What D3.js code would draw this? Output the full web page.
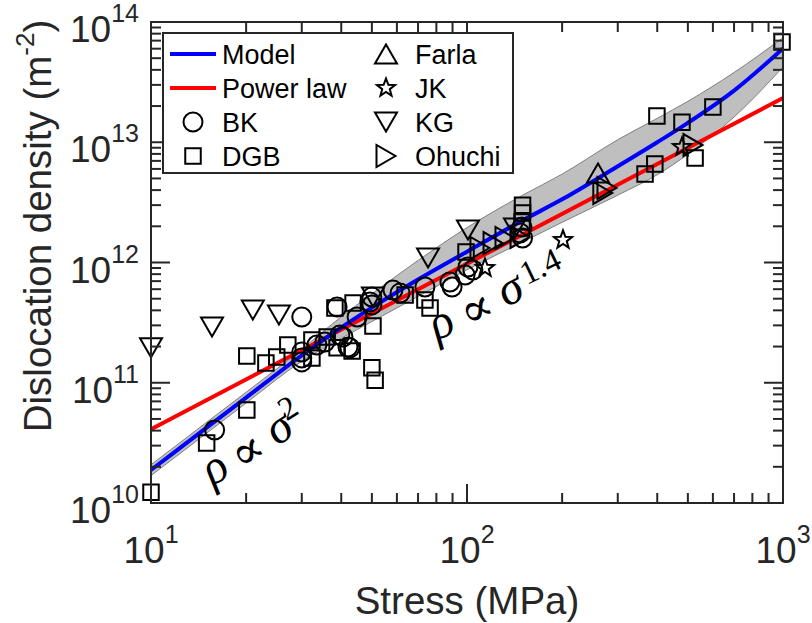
<!DOCTYPE html>
<html>
<head>
<meta charset="utf-8">
<script src="https://cdn.jsdelivr.net/npm/d3@7"></script>
<style>
  body { margin: 0; background: #fff; }
  svg { display: block; }
  text { font-family: "Liberation Sans", Arial, Helvetica, sans-serif; fill: #262626; }
</style>
</head>
<body>
<svg id="chart" width="812" height="623"></svg>
<script>
// ---- model curve with its uncertainty band ----
const modelStress  = [10, 15, 20, 30, 40, 50, 70, 100, 150, 200, 300, 400, 500, 700, 1000];
const modelDensity = [1.88e10, 4.23e10, 7.52e10, 1.69e11, 2.88e11, 4.21e11, 7.21e11, 1.23e12, 2.24e12, 3.35e12, 6.31e12, 1.00e13, 1.45e13, 2.69e13, 6.03e13];
const bandLower    = [1.69e10, 3.81e10, 6.78e10, 1.51e11, 2.34e11, 3.23e11, 5.22e11, 8.71e11, 1.48e12, 2.16e12, 3.63e12, 5.37e12, 7.94e12, 1.62e13, 4.22e13];
const bandUpper    = [2.08e10, 4.69e10, 8.34e10, 1.90e11, 3.54e11, 5.48e11, 1.04e12, 1.95e12, 3.63e12, 5.43e12, 1.05e13, 1.58e13, 2.19e13, 3.80e13, 7.41e13];

// ---- power-law fit (straight line in log-log) ----
const powerLawStress  = [10, 1000];
const powerLawDensity = [4.1e10, 2.33e13];

// ---- measured dislocation densities [stress MPa, density m^-2] ----
const bkData = [
  [15.9, 4.05e10], [30.0, 3.52e11], [30.0, 1.80e11], [30.0, 1.61e11], [30.0, 1.49e11],
  [33.5, 2.06e11], [35.5, 2.18e11], [38.8, 4.27e11], [39.6, 2.49e11], [40.5, 2.40e11],
  [42.0, 1.98e11], [42.6, 1.95e11], [44.9, 3.52e11], [49.3, 4.70e11], [50.0, 5.16e11],
  [50.0, 4.44e11], [58.3, 5.90e11], [61.4, 5.57e11], [73.6, 6.25e11], [88.3, 6.88e11],
  [89.7, 6.25e11], [98.6, 7.87e11], [100.7, 9.18e11], [104.4, 8.67e11], [147.2, 1.76e12],
  [149.3, 1.97e12], [149.9, 1.60e12]
];
const dgbData = [
  [10.0, 1.23e10], [15.0, 3.15e10], [20.1, 5.93e10], [20.1, 1.67e11], [23.1, 1.46e11],
  [25.0, 1.64e11], [27.1, 2.06e11], [32.3, 1.61e11], [32.3, 2.27e11], [36.1, 2.40e11],
  [38.2, 4.19e11], [38.8, 1.95e11], [43.3, 1.84e11], [43.6, 4.60e11], [50.4, 2.97e11],
  [50.0, 1.33e11], [51.2, 1.05e11], [63.7, 5.37e11], [73.6, 4.88e11], [76.4, 4.19e11],
  [99.3, 1.22e12], [149.9, 3.00e12], [149.9, 2.58e12], [149.3, 2.17e12], [993, 6.82e13],
  [600, 1.96e13], [399, 1.65e13], [479, 1.47e13], [527, 7.40e12], [393, 6.59e12],
  [366, 5.45e12]
];
const farlaData = [[259.8, 5.55e12]];
const jkData = [[201.3, 1.54e12], [114, 9.0e11], [479, 9.12e12]];
const kgData = [
  [10.0, 1.95e11], [15.6, 2.91e11], [21.0, 4.03e11], [25.4, 3.66e11], [50.4, 5.16e11],
  [75.3, 1.09e12], [100.7, 1.86e12], [141.9, 1.94e12]
];
const ohuchiData = [
  [109.9, 1.32e12], [120.9, 1.45e12], [131.9, 1.60e12], [147.2, 1.63e12],
  [277.3, 4.17e12], [269, 3.79e12], [519, 9.48e12]
];

// ---- axes ----
const xDomain = [10, 1000];
const yDomain = [1e10, 1e14];
const xLabel = "Stress (MPa)";
const yLabel = "Dislocation density (m";

const plot = { left: 151, right: 783, top: 22, bottom: 503 };
const axisColor = "#262626";

const svg = d3.select("#chart");
const x = d3.scaleLog().domain(xDomain).range([plot.left, plot.right]);
const y = d3.scaleLog().domain(yDomain).range([plot.bottom, plot.top]);

// marker outlines, centred on (0,0)
function circlePath(r) {
  return `M${r},0A${r},${r} 0 1,1 ${-r},0A${r},${r} 0 1,1 ${r},0Z`;
}
function squarePath(s) {
  const h = s / 2;
  return `M${-h},${-h}H${h}V${h}H${-h}Z`;
}
function triUpPath(w, h) {
  return `M0,${-h/2}L${w/2},${h/2}L${-w/2},${h/2}Z`;
}
function triDownPath(w, h) {
  return `M0,${h/2}L${w/2},${-h/2}L${-w/2},${-h/2}Z`;
}
function triRightPath(w, h) {
  return `M${h/2},0L${-h/2},${w/2}L${-h/2},${-w/2}Z`;
}
function starPath(ro, ri) {
  const pts = [];
  for (let i = 0; i < 10; i++) {
    const r = i % 2 === 0 ? ro : ri;
    const a = -Math.PI / 2 + i * Math.PI / 5;
    pts.push([r * Math.cos(a), r * Math.sin(a)]);
  }
  return "M" + pts.map(p => p[0].toFixed(2) + "," + p[1].toFixed(2)).join("L") + "Z";
}

const series = [
  { name: "BK",     data: bkData,     path: circlePath(9.5) },
  { name: "DGB",    data: dgbData,    path: squarePath(15.5) },
  { name: "Farla",  data: farlaData,  path: triUpPath(22, 19) },
  { name: "JK",     data: jkData,     path: starPath(9.5, 4) },
  { name: "KG",     data: kgData,     path: triDownPath(22, 19) },
  { name: "Ohuchi", data: ohuchiData, path: triRightPath(22, 19) }
];

// ---- uncertainty band ----
const band = modelStress.map((s, i) => ({ s, lo: bandLower[i], hi: bandUpper[i] }));
svg.append("path")
  .datum(band)
  .attr("d", d3.area()
    .x(d => x(d.s)).y0(d => y(d.lo)).y1(d => y(d.hi))
    .curve(d3.curveMonotoneX))
  .attr("fill", "#bfbfbf")
  .attr("stroke", "#7f7f7f")
  .attr("stroke-width", 1);

// ---- lines ----
const lineGen = d3.line().x(d => x(d[0])).y(d => y(d[1])).curve(d3.curveMonotoneX);
svg.append("path")
  .datum(powerLawStress.map((s, i) => [s, powerLawDensity[i]]))
  .attr("d", lineGen)
  .attr("fill", "none").attr("stroke", "#ff0000").attr("stroke-width", 4);
svg.append("path")
  .datum(modelStress.map((s, i) => [s, modelDensity[i]]))
  .attr("d", lineGen)
  .attr("fill", "none").attr("stroke", "#0000ff").attr("stroke-width", 4);

// ---- data markers ----
series.forEach(se => {
  svg.append("g").selectAll("path")
    .data(se.data)
    .join("path")
    .attr("d", se.path)
    .attr("transform", d => `translate(${x(d[0])},${y(d[1])})`)
    .attr("fill", "none")
    .attr("stroke", "#000")
    .attr("stroke-width", 2);
});

// ---- axes box and ticks (inward, on all four sides) ----
const majorLen = 19, minorLen = 10;
const ax = svg.append("g").attr("stroke", axisColor).attr("stroke-width", 2);
const isMajor = v => Math.abs(Math.log10(v) - Math.round(Math.log10(v))) < 1e-9;
x.ticks().forEach(v => {
  const px = x(v), len = isMajor(v) ? majorLen : minorLen;
  ax.append("line").attr("x1", px).attr("x2", px).attr("y1", plot.bottom).attr("y2", plot.bottom - len);
  ax.append("line").attr("x1", px).attr("x2", px).attr("y1", plot.top).attr("y2", plot.top + len);
});
y.ticks().forEach(v => {
  const py = y(v), len = isMajor(v) ? majorLen : minorLen;
  ax.append("line").attr("x1", plot.left).attr("x2", plot.left + len).attr("y1", py).attr("y2", py);
  ax.append("line").attr("x1", plot.right).attr("x2", plot.right - len).attr("y1", py).attr("y2", py);
});
ax.append("rect")
  .attr("x", plot.left).attr("y", plot.top)
  .attr("width", plot.right - plot.left).attr("height", plot.bottom - plot.top)
  .attr("fill", "none");

// tick labels as 10^n
x.ticks().filter(isMajor).forEach(v => {
  const t = svg.append("text").attr("x", x(v)).attr("y", 563)
    .attr("text-anchor", "middle").attr("font-size", 37);
  t.append("tspan").text("10");
  t.append("tspan").attr("font-size", 25).attr("dy", -20).text(Math.round(Math.log10(v)));
});
y.ticks().filter(isMajor).forEach(v => {
  const t = svg.append("text").attr("x", 139).attr("y", y(v) + 20)
    .attr("text-anchor", "end").attr("font-size", 37);
  t.append("tspan").text("10");
  t.append("tspan").attr("font-size", 25).attr("dy", -20).text(Math.round(Math.log10(v)));
});

// axis titles
svg.append("text").attr("x", 467).attr("y", 614)
  .attr("text-anchor", "middle").attr("font-size", 38.5).text(xLabel);
const yl = svg.append("text")
  .attr("transform", "translate(51,226) rotate(-90)")
  .attr("text-anchor", "middle").attr("font-size", 38.5);
yl.append("tspan").text(yLabel);
yl.append("tspan").attr("font-size", 26).attr("dy", -17).text("-2");
yl.append("tspan").attr("dy", 17).text(")");

// ---- slope annotations: glyphs placed along a rotated baseline ----
const mathFont = "'Liberation Serif', 'DejaVu Serif', serif";
function slopeNote(cx, cy, angle, size, pieces) {
  const g = svg.append("g").attr("transform", `translate(${cx},${cy}) rotate(${angle})`);
  pieces.forEach(p => {
    g.append("text")
      .attr("x", p.x).attr("y", p.y)
      .attr("text-anchor", "middle")
      .attr("font-size", p.size || size)
      .style("font-family", mathFont)
      .style("font-style", p.italic ? "italic" : "normal")
      .style("fill", "#000")
      .text(p.t);
  });
}
slopeNote(217, 472, -32, 48, [
  { t: "ρ", x: 0, y: 10, italic: true },
  { t: "∝", x: 37, y: 14 },
  { t: "σ", x: 76, y: 10, italic: true },
  { t: "2", x: 94, y: -6, size: 33 }
]);
slopeNote(443, 327, -26, 48, [
  { t: "ρ", x: 0, y: 10, italic: true },
  { t: "∝", x: 38, y: 14 },
  { t: "σ", x: 77, y: 10, italic: true },
  { t: "1.4", x: 114, y: -1, size: 33 }
]);

// ---- legend ----
const legend = svg.append("g");
legend.append("rect")
  .attr("x", 163).attr("y", 33).attr("width", 350).attr("height", 140)
  .attr("fill", "#fff").attr("stroke", axisColor).attr("stroke-width", 2);
const rowY = [54, 88, 122, 156];
const leftItems = [
  { label: "Model", line: "#0000ff" },
  { label: "Power law", line: "#ff0000" },
  { label: "BK", path: series[0].path },
  { label: "DGB", path: series[1].path }
];
const rightItems = [
  { label: "Farla", path: series[2].path },
  { label: "JK", path: series[3].path },
  { label: "KG", path: series[4].path },
  { label: "Ohuchi", path: series[5].path }
];
function drawItem(item, i, mx, tx) {
  const cy = rowY[i];
  if (item.line) {
    legend.append("line").attr("x1", mx - 23).attr("x2", mx + 23)
      .attr("y1", cy).attr("y2", cy).attr("stroke", item.line).attr("stroke-width", 4);
  } else {
    legend.append("path").attr("d", item.path)
      .attr("transform", `translate(${mx},${cy})`)
      .attr("fill", "none").attr("stroke", "#000").attr("stroke-width", 2);
  }
  legend.append("text").attr("x", tx).attr("y", cy + 10)
    .attr("font-size", 27).style("fill", "#000").text(item.label);
}
leftItems.forEach((d, i) => drawItem(d, i, 193, 222));
rightItems.forEach((d, i) => drawItem(d, i, 386, 415));
</script>
</body>
</html>
